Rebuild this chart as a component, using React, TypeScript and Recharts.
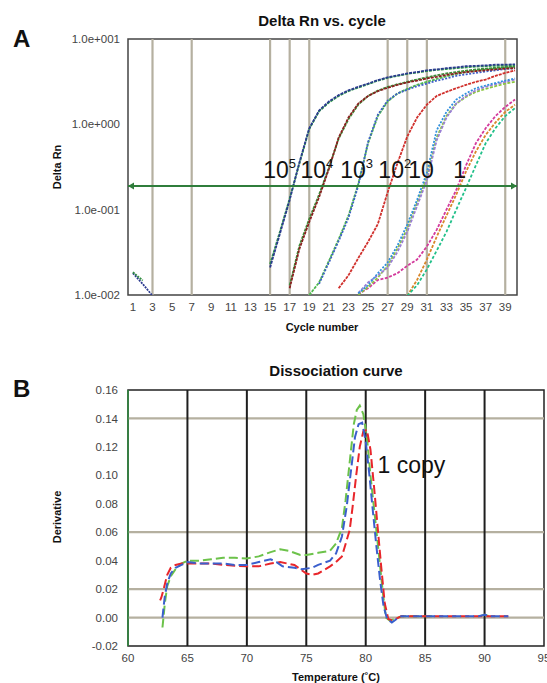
import React from 'react';
import { LineChart, Line, XAxis, YAxis, ReferenceLine, ReferenceArea, ReferenceDot } from 'recharts';

// ---------- Panel A data ----------
const cycles = [1, 2, 3, 4, 5, 6, 7, 8, 9, 10, 11, 12, 13, 14, 15, 16, 17, 18, 19, 20, 21, 22, 23, 24, 25, 26, 27, 28, 29, 30, 31, 32, 33, 34, 35, 36, 37, 38, 39, 40];
const cycleTicks = [1, 3, 5, 7, 9, 11, 13, 15, 17, 19, 21, 23, 25, 27, 29, 31, 33, 35, 37, 39];
const cycleGridLines = [3, 7, 15, 17, 19, 27, 29, 31, 39];
const rnTicks = [0.01, 0.1, 1, 10];
const rnTickLabels = ['1.0e-002', '1.0e-001', '1.0e+000', '1.0e+001'];
const threshold = 0.19;

const early5Navy = [0.018, 0.0135, 0.0098];
const early5Green = [0.0185, 0.0148];
const e5Navy = [0.021, 0.052, 0.13, 0.36, 0.9, 1.45, 1.85, 2.2, 2.5, 2.75, 3.0, 3.3, 3.55, 3.75, 3.95, 4.1, 4.3, 4.4, 4.55, 4.65, 4.8, 4.85, 4.9, 5.0, 5.0, 5.05];
const e5Green = [0.023, 0.055, 0.135, 0.35, 0.88, 1.42, 1.8, 2.15, 2.45, 2.7, 2.95, 3.25, 3.5, 3.7, 3.9, 4.05, 4.2, 4.35, 4.45, 4.55, 4.65, 4.75, 4.8, 4.85, 4.9, 4.95];
const e4Red = [0.012, 0.035, 0.072, 0.14, 0.3, 0.7, 1.2, 1.75, 2.15, 2.45, 2.68, 2.9, 3.1, 3.25, 3.45, 3.6, 3.8, 3.95, 4.1, 4.2, 4.3, 4.4, 4.5, 4.55];
const e4Green = [0.013, 0.038, 0.078, 0.15, 0.31, 0.68, 1.15, 1.7, 2.15, 2.48, 2.75, 2.95, 3.15, 3.35, 3.55, 3.75, 3.95, 4.1, 4.25, 4.4, 4.5, 4.6, 4.7, 4.75];
const e3Blue = [0.0135, 0.024, 0.043, 0.08, 0.19, 0.62, 1.3, 1.9, 2.3, 2.55, 2.8, 3.0, 3.25, 3.45, 3.7, 3.85, 4.0, 4.15, 4.3, 4.45, 4.55];
const e3Green = [0.01, 0.014, 0.025, 0.045, 0.085, 0.2, 0.6, 1.25, 1.85, 2.3, 2.6, 2.9, 3.15, 3.4, 3.65, 3.9, 4.1, 4.25, 4.4, 4.5, 4.6, 4.7];
const e2Red = [0.012, 0.017, 0.027, 0.042, 0.068, 0.16, 0.35, 0.72, 1.2, 1.7, 2.15, 2.4, 2.65, 2.9, 3.15, 3.35, 3.7, 4.0, 4.3];
const e1Blue = [0.0105, 0.013, 0.018, 0.024, 0.038, 0.067, 0.13, 0.27, 0.85, 1.4, 1.95, 2.3, 2.65, 2.85, 3.05, 3.25, 3.45];
const e1Purple = [0.0105, 0.014, 0.017, 0.021, 0.032, 0.055, 0.11, 0.22, 0.65, 1.2, 1.75, 2.15, 2.5, 2.75, 2.95, 3.15, 3.35];
const e1Green = [0.01, 0.0125, 0.016, 0.022, 0.035, 0.06, 0.12, 0.24, 0.7, 1.25, 1.75, 2.1, 2.4, 2.6, 2.8, 3.0, 3.15];
const e0Magenta = [0.0102, 0.012, 0.015, 0.016, 0.018, 0.022, 0.026, 0.037, 0.058, 0.1, 0.17, 0.33, 0.6, 0.9, 1.25, 1.6, 1.95];
const e0Orange = [0.0098, 0.015, 0.026, 0.048, 0.085, 0.15, 0.28, 0.48, 0.75, 1.05, 1.4, 1.7];
const e0Teal = [0.0098, 0.013, 0.02, 0.033, 0.055, 0.1, 0.18, 0.33, 0.6, 0.9, 1.25, 1.55];

const annCycles = [14.3, 18.1, 22.15, 26.05, 29.1, 33.7];
const annBases = ['10', '10', '10', '10', '10', '1'];
const annExps = ['5', '4', '3', '2', '', ''];
const annLevel = 0.234;

const seriesA = [
  { key: 'early5Navy', start: 1, values: early5Navy, color: '#2b3a8f', dash: '2 1' },
  { key: 'early5Green', start: 1, values: early5Green, color: '#2e8b3e', dash: '2 1' },
  { key: 'e0Magenta', start: 24, values: e0Magenta, color: '#d33a9c', dash: '3 1.5' },
  { key: 'e0Orange', start: 29, values: e0Orange, color: '#d9862b', dash: '3 1.5' },
  { key: 'e0Teal', start: 29, values: e0Teal, color: '#22c08a', dash: '3 2' },
  { key: 'e1Green', start: 24, values: e1Green, color: '#8cc63f', dash: '3 1.5' },
  { key: 'e1Purple', start: 24, values: e1Purple, color: '#9a7fd6', dash: '3 1.5' },
  { key: 'e1Blue', start: 24, values: e1Blue, color: '#2f8fdc', dash: '2 1.5' },
  { key: 'e2Red', start: 22, values: e2Red, color: '#d0302c', dash: '3 1' },
  { key: 'e3Green', start: 19, values: e3Green, color: '#4fb84f', dash: '3 1' },
  { key: 'e3Blue', start: 20, values: e3Blue, color: '#3f5fc8', dash: '2 1.5' },
  { key: 'e4Green', start: 17, values: e4Green, color: '#3d8f3a', dash: '3 1' },
  { key: 'e4Red', start: 17, values: e4Red, color: '#8a1f1f', dash: '3 1' },
  { key: 'e5Green', start: 15, values: e5Green, color: '#2e9a48', dash: '3 1' },
  { key: 'e5Navy', start: 15, values: e5Navy, color: '#2b3a8f', dash: '3 1' },
];

const rowsA = cycles.map((c) => {
  const row: Record<string, number | null> = { cycle: c };
  seriesA.forEach((s) => {
    const i = c - s.start;
    row[s.key] = i >= 0 && i < s.values.length ? s.values[i] : null;
  });
  return row;
});

// ---------- Panel B data ----------
const tempTicks = [60, 65, 70, 75, 80, 85, 90, 95];
const tempGridLines = [65, 70, 75, 80, 85, 90];
const derivTicks = [-0.02, 0, 0.02, 0.04, 0.06, 0.08, 0.1, 0.12, 0.14, 0.16];
const derivGridLines = [0, 0.02, 0.06, 0.14];

const greenT = [62.9, 63.1, 63.3, 63.6, 64, 64.5, 65, 66, 67, 68, 69, 70, 71, 72, 72.8, 73.5, 74.5, 75, 76, 77, 77.5, 78, 78.3, 78.7, 79, 79.25, 79.5, 79.8, 80.1, 80.4, 80.8, 81.1, 81.45, 81.7, 82, 82.5, 83, 84, 85, 85.8, 86, 89.6, 90, 90.4];
const greenV = [-0.007, 0.01, 0.022, 0.029, 0.034, 0.038, 0.04, 0.04, 0.041, 0.042, 0.042, 0.0415, 0.043, 0.046, 0.048, 0.047, 0.044, 0.044, 0.0455, 0.047, 0.052, 0.063, 0.082, 0.113, 0.136, 0.146, 0.149, 0.143, 0.127, 0.1, 0.069, 0.045, 0.017, 0.0, -0.002, -0.001, 0.001, 0.001, 0.001, 0.001, null, 0.001, 0.002, 0.001];

const blueT = [62.9, 63, 63.1, 63.3, 63.6, 64, 64.5, 65, 66, 67, 68, 69, 70, 71, 72, 72.5, 73, 74, 74.6, 75.5, 76, 77, 77.5, 78, 78.4, 78.8, 79.1, 79.4, 79.7, 80, 80.3, 80.6, 80.9, 81.2, 81.5, 81.8, 82.2, 82.6, 83, 84, 86, 88, 89.5, 90, 90.5, 92];
const blueV = [0.0, 0.008, 0.015, 0.024, 0.031, 0.035, 0.037, 0.039, 0.038, 0.038, 0.038, 0.037, 0.037, 0.039, 0.041, 0.039, 0.036, 0.035, 0.034, 0.035, 0.037, 0.04, 0.045, 0.057, 0.078, 0.106, 0.127, 0.136, 0.137, 0.124, 0.101, 0.075, 0.05, 0.027, 0.008, -0.001, -0.0035, -0.001, 0.001, 0.001, 0.001, 0.001, 0.001, 0.002, 0.001, 0.001];

const redT = [62.7, 62.8, 63, 63.3, 63.6, 64, 64.5, 65, 66, 67, 68, 69, 70, 71, 72, 72.8, 74, 75, 75.5, 76, 77, 77.5, 78, 78.65, 78.9, 79.2, 79.5, 79.8, 80.1, 80.4, 80.7, 81, 81.3, 81.6, 81.9, 82.2, 82.5, 83, 85, 88, 90, 92];
const redV = [0.012, 0.014, 0.02, 0.03, 0.035, 0.037, 0.038, 0.038, 0.038, 0.038, 0.037, 0.0365, 0.036, 0.036, 0.038, 0.039, 0.037, 0.031, 0.03, 0.031, 0.036, 0.039, 0.043, 0.0615, 0.078, 0.1, 0.12, 0.131, 0.132, 0.118, 0.092, 0.064, 0.036, 0.01, -0.001, -0.002, -0.001, 0.001, 0.001, 0.001, 0.001, 0.001];

const copyLabelT = 81.0;
const copyLabelV = 0.1015;

const seriesB = [
  { key: 'green', temps: greenT, values: greenV, color: '#6cc24a' },
  { key: 'red', temps: redT, values: redV, color: '#e8262b' },
  { key: 'blue', temps: blueT, values: blueV, color: '#3a5fcd' },
];

const FONT = '"Liberation Sans", Arial, Helvetica, sans-serif';
const tickStyle = { fill: '#444', fontSize: 11.5, fontFamily: FONT };

const ThresholdShape = (p: any) => {
  const { x1, y1, x2, y2 } = p;
  const c = '#2f7d3b';
  return (
    <g>
      <line x1={x1} y1={y1} x2={x2} y2={y2} stroke={c} strokeWidth={2} />
      <polygon points={`${x1},${y1} ${x1 + 6},${y1 - 3.5} ${x1 + 6},${y1 + 3.5}`} fill={c} />
      <polygon points={`${x2},${y2} ${x2 - 6},${y2 - 3.5} ${x2 - 6},${y2 + 3.5}`} fill={c} />
    </g>
  );
};

const makeAnnShape = (base: string, exp: string) => (p: any) => (
  <text x={p.cx} y={p.cy} fontFamily={FONT} fontSize={23} fill="#111">
    {base}
    {exp ? (
      <tspan fontSize={13} dy={-10}>
        {exp}
      </tspan>
    ) : null}
  </text>
);

const copyShape = (p: any) => (
  <text x={p.cx} y={p.cy} fontFamily={FONT} fontSize={23} fill="#111">
    1 copy
  </text>
);

export default function App() {
  return (
    <div style={{ position: 'absolute', left: 0, top: 0, width: 547, height: 683, background: '#fff', fontFamily: FONT }}>
      <div style={{ position: 'absolute', left: 0, top: 0 }}>
        <LineChart width={547} height={340} data={rowsA} margin={{ top: 39, right: 30, bottom: 15, left: 68 }}>
          <XAxis
            dataKey="cycle"
            type="number"
            domain={[0.5, 40.2]}
            ticks={cycleTicks}
            allowDataOverflow
            axisLine={false}
            tickLine={false}
            tick={tickStyle}
            height={30}
            interval={0}
          />
          <YAxis
            type="number"
            scale="log"
            domain={[0.01, 10]}
            ticks={rnTicks}
            allowDataOverflow
            axisLine={false}
            tickLine={false}
            tick={tickStyle}
            width={60}
            interval={0}
            tickFormatter={(v: number) => rnTickLabels[rnTicks.indexOf(v)] ?? String(v)}
          />
          {cycleGridLines.map((c) => (
            <ReferenceLine key={'g' + c} x={c} stroke="#b5b0a0" strokeWidth={2.2} />
          ))}
          {seriesA.map((s) => (
            <Line
              key={s.key}
              dataKey={s.key}
              stroke={s.color}
              strokeWidth={1.8}
              strokeDasharray={s.dash}
              dot={false}
              isAnimationActive={false}
              connectNulls={false}
            />
          ))}
          <ReferenceLine y={threshold} shape={ThresholdShape} />
          <ReferenceArea x1={0.5} x2={40.2} y1={0.01} y2={10} fill="none" stroke="#444" strokeWidth={1.5} />
          {annCycles.map((c, i) => (
            <ReferenceDot key={'a' + i} x={c} y={annLevel} r={0} shape={makeAnnShape(annBases[i], annExps[i])} />
          ))}
        </LineChart>
      </div>

      <div style={{ position: 'absolute', left: 0, top: 350 }}>
        <LineChart width={547} height={333} margin={{ top: 40, right: 3, bottom: 7, left: 68 }}>
          <XAxis
            dataKey="t"
            type="number"
            domain={[60, 95]}
            ticks={tempTicks}
            allowDataOverflow
            axisLine={false}
            tickLine={false}
            tick={tickStyle}
            height={30}
            interval={0}
          />
          <YAxis
            type="number"
            domain={[-0.02, 0.16]}
            ticks={derivTicks}
            allowDataOverflow
            axisLine={false}
            tickLine={false}
            tick={tickStyle}
            tickMargin={4}
            width={60}
            interval={0}
            tickFormatter={(v: number) => v.toFixed(2)}
          />
          {derivGridLines.map((v) => (
            <ReferenceLine key={'h' + v} y={v} stroke="#b5b0a0" strokeWidth={2.2} />
          ))}
          {tempGridLines.map((t) => (
            <ReferenceLine key={'v' + t} x={t} stroke="#1e1e1e" strokeWidth={2} />
          ))}
          <ReferenceArea x1={60} x2={95} y1={-0.02} y2={0.16} fill="none" stroke="#222" strokeWidth={1.5} />
          <ReferenceLine x={60} stroke="#2e8b3e" strokeWidth={1.5} />
          {seriesB.map((s) => (
            <Line
              key={s.key}
              data={s.temps.map((t, i) => ({ t, v: s.values[i] }))}
              dataKey="v"
              stroke={s.color}
              strokeWidth={2}
              strokeDasharray="9 4"
              dot={false}
              isAnimationActive={false}
              connectNulls={false}
            />
          ))}
          <ReferenceDot x={copyLabelT} y={copyLabelV} r={0} shape={copyShape} />
        </LineChart>
      </div>

      <svg width={547} height={683} style={{ position: 'absolute', left: 0, top: 0, pointerEvents: 'none' }}>
        <g fontFamily={FONT} fill="#111">
          <text x={13} y={47} fontSize={24} fontWeight="bold">A</text>
          <text x={13} y={397} fontSize={24} fontWeight="bold">B</text>
          <text x={322} y={26} fontSize={15} fontWeight="bold" textAnchor="middle">Delta Rn vs. cycle</text>
          <text x={322} y={331} fontSize={11} fontWeight="bold" textAnchor="middle">Cycle number</text>
          <text x={61} y={167} fontSize={11} fontWeight="bold" textAnchor="middle" transform="rotate(-90 61 167)">Delta Rn</text>
          <text x={336} y={376} fontSize={15} fontWeight="bold" textAnchor="middle">Dissociation curve</text>
          <text x={61} y={517} fontSize={11} fontWeight="bold" textAnchor="middle" transform="rotate(-90 61 517)">Derivative</text>
          <text x={336} y={681} fontSize={11} fontWeight="bold" textAnchor="middle">Temperature (˚C)</text>
        </g>
      </svg>
    </div>
  );
}
